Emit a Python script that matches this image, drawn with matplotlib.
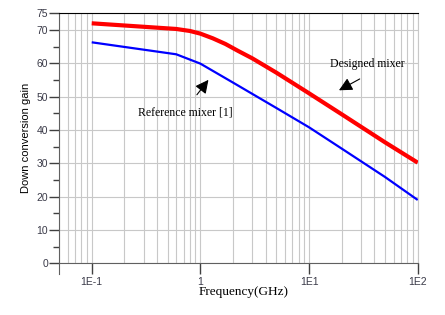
import numpy as np
import matplotlib
matplotlib.use('Agg')
import matplotlib.pyplot as plt
from matplotlib.ticker import FixedLocator, NullFormatter

# data
freq_designed = [0.1, 0.6, 0.8, 1.0, 1.3, 1.7, 2.2, 3.0, 5.0, 10, 20, 50, 100]
gain_designed = [72.0, 70.3, 69.7, 68.9, 67.5, 65.8, 63.8, 61.5, 57.2, 51.0, 44.7, 36.3, 30.2]
freq_ref = [0.1, 0.6, 1.0, 2.0, 5.0, 10, 20, 50, 100]
gain_ref = [66.3, 62.7, 59.9, 54.2, 46.6, 40.8, 34.4, 25.9, 19.0]

xticks = [0.1, 1, 10, 100]
xticklabels = ['1E-1', '1', '1E1', '1E2']
yticks = [0, 10, 20, 30, 40, 50, 60, 70, 75]

fig = plt.figure(figsize=(4.45, 3.15), dpi=100)
ax = fig.add_axes([59/445, 1-263.3/315, (417.7-59)/445, 250/315])

ax.plot(freq_designed, gain_designed, color='#ff0000', lw=3.0, solid_capstyle='butt', zorder=3)
ax.plot(freq_ref, gain_ref, color='#0000ff', lw=1.6, solid_capstyle='butt', zorder=3)

ax.set_xscale('log')
ax.set_xlim(0.05, 100)
ax.set_ylim(0, 75)

ax.xaxis.set_major_locator(FixedLocator(xticks))
ax.set_xticklabels(xticklabels)
minor_x = [m*10.0**e for e in range(-2, 2) for m in range(2, 10)]
ax.xaxis.set_minor_locator(FixedLocator(minor_x))
ax.xaxis.set_minor_formatter(NullFormatter())
ax.set_yticks(yticks)
ax.yaxis.set_minor_locator(FixedLocator([5, 15, 25, 35, 45, 55, 65]))

ax.grid(True, which='both', axis='x', color='#c8c8c8', lw=0.8)
ax.grid(True, which='major', axis='y', color='#c8c8c8', lw=0.8)
ax.set_axisbelow(True)

ax.tick_params(axis='x', which='major', direction='out', length=8, width=1,
               color='#404040', labelsize=7.5, labelcolor='#3a3a48', pad=2)
ax.tick_params(axis='x', which='minor', length=0)
ax.tick_params(axis='y', which='major', direction='out', length=7, width=1,
               color='#404040', labelsize=7.5, labelcolor='#3a3a48', pad=1)
ax.tick_params(axis='y', which='minor', direction='out', length=4, width=1, color='#404040')

for lab in ax.get_xticklabels() + ax.get_yticklabels():
    lab.set_family('Liberation Sans')

ax.spines['top'].set_color('black')
ax.spines['right'].set_color('#c8c8c8')
ax.spines['left'].set_color('#606060')
ax.spines['bottom'].set_color('#606060')
ax.spines['left'].set_bounds(-3.3, 75)

ax.set_ylabel('Down conversion gain', family='Liberation Sans', fontsize=8, labelpad=4)
fig.text(244/445, 1-292/315, 'Frequency(GHz)', family='Liberation Serif', fontsize=9.5,
         ha='center', va='center')

# annotations
ax.annotate('', xy=(17.9, 51.5), xytext=(30.8, 55.7),
            arrowprops=dict(arrowstyle='-|>,head_length=0.8,head_width=0.4', color='black', lw=0.8))
ax.text(34.1, 59.8, 'Designed mixer', family='Liberation Serif', fontsize=8.5,
        ha='center', va='center')
ax.annotate('', xy=(1.23, 55.7), xytext=(0.896, 49.9),
            arrowprops=dict(arrowstyle='-|>,head_length=0.8,head_width=0.4', color='black', lw=0.8))
ax.text(0.724, 45.3, 'Reference mixer [1]', family='Liberation Serif', fontsize=8.5,
        ha='center', va='center')

plt.savefig('out.png', dpi=100)
